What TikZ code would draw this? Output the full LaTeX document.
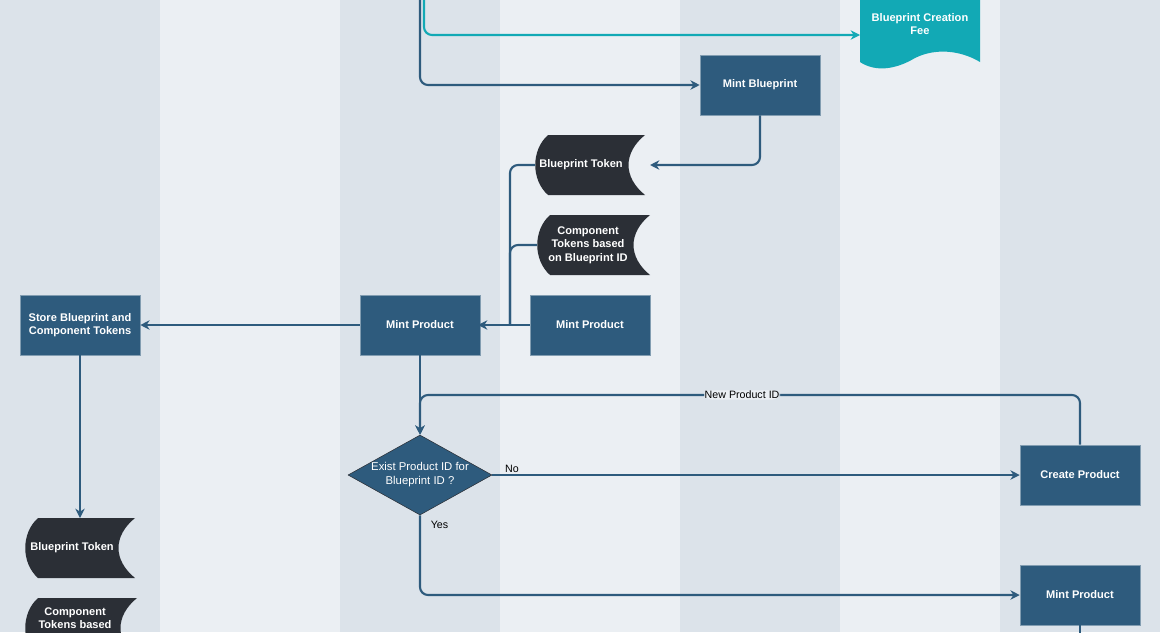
\documentclass[tikz,border=0pt]{standalone}
\usepackage{fontspec}
\setmainfont{Liberation Sans}
\usetikzlibrary{shapes.geometric, arrows.meta, positioning}
\definecolor{laneA}{HTML}{DCE3EA}
\definecolor{laneB}{HTML}{EBEFF3}
\definecolor{boxblue}{HTML}{2E5B7D}
\definecolor{tokdark}{HTML}{2B2F36}
\definecolor{teal}{HTML}{12A9B5}

\begin{document}
\begin{tikzpicture}[x=0.75pt, y=-0.75pt, >={Stealth[length=7pt,width=7pt]},
	font=\fontsize{8.5}{10.5}\selectfont]
	\tikzset{
		proc/.style = {draw=boxblue!60!white, fill=boxblue, text=white, font=\fontsize{8.3}{10}\selectfont\bfseries,
			minimum width=90pt, minimum height=45pt, align=center, inner sep=1pt},
		token/.style = {text=white, font=\fontsize{8.3}{10}\selectfont\bfseries, align=center, inner sep=0pt},
		flow/.style = {draw=boxblue, line width=1.6pt, rounded corners=6pt},
		decide/.style = {diamond, aspect=1.8, draw=tokdark, fill=boxblue, text=white, align=center,
			minimum width=108pt, minimum height=60pt, inner sep=0pt},
		lbl/.style = {font=\fontsize{8}{9}\selectfont, text=black}
	}
	% stored data shape, given left x, top y, width, height
	\newcommand{\tokshape}[4]{%
		\fill[tokdark] (#1+13,#2) -- (#1+#3,#2) .. controls (#1+#3-22,#2+#4*0.3) and (#1+#3-22,#2+#4*0.7) .. (#1+#3,#2+#4)
			-- (#1+13,#2+#4) .. controls (#1-4,#2+#4*0.75) and (#1-4,#2+#4*0.25) .. (#1+13,#2) -- cycle;}

	\useasboundingbox (0,0) rectangle (1160,632);
	\clip (0,0) rectangle (1160,632);

	% lanes
	\foreach \x/\w/\c in {0/160/laneA, 160/180/laneB, 340/160/laneA, 500/180/laneB, 680/160/laneA, 840/160/laneB, 1000/160/laneA}
		\fill[\c] (\x,0) rectangle (\x+\w,632);

	% fee document
	\fill[teal] (860,-5) -- (980,-5) -- (980,62) .. controls (960,50) and (935,48) .. (915,58)
		.. controls (895,70) and (875,72) .. (860,62) -- cycle;
	\node[token] (fee) at (920,24) {Blueprint Creation\\Fee};
	\coordinate (feein) at (860,35);

	% tokens
	\tokshape{535}{135}{110}{60}
	\node[token] (bptok) at (581,165) {Blueprint Token};
	\tokshape{537}{215}{113}{60}
	\node[token] (comptok) at (588,245) {Component\\Tokens based\\on Blueprint ID};
	\tokshape{25}{518}{110}{60}
	\node[token] (bptok2) at (72,548) {Blueprint Token};
	\tokshape{25}{598}{112}{60}
	\node[token, anchor=north] (comptok2) at (75,607) {Component\\Tokens based\\on Blueprint ID};

	% processes
	\node[proc] (mintbp) at (760,85) {Mint Blueprint};
	\node[proc] (mintp) at (420,325) {Mint Product};
	\node[proc] (mintp2) at (590,325) {Mint Product};
	\node[proc] (store) at (80,325) {Store Blueprint and\\Component Tokens};
	\node[decide] (exist) at (420,475) {Exist Product ID for\\Blueprint ID ?};
	\node[proc] (create) at (1080,475) {Create Product};
	\node[proc] (mintp3) at (1080,595) {Mint Product};

	\coordinate (top) at (420,-5);
	\coordinate (topt) at (424,-5);
	\coordinate (bottom) at (1080,640);
	\coordinate (bpin) at (650,165);
	\coordinate (mpin) at (478,325);

	% connectors
	\draw[->, draw=teal, line width=1.6pt, rounded corners=6pt] (topt) |- (feein);
	\draw[->, flow] (top) |- (mintbp.west);
	\draw[->, flow] (mintbp.south) |- (bpin);
	\draw[flow] (535,165) -| (510,325);
	\draw[flow] (537,245) -| (510,325);
	\draw[->, flow] (mintp2.west) -- (mpin);
	\draw[->, flow] (mintp.west) -- (store.east);
	\draw[->, flow] (store.south) -- (80,518);
	\draw[->, flow] (mintp.south) -- (exist.north);
	\draw[->, flow] (exist.east) -- node[lbl, pos=0.02, above right, inner sep=1pt] {No} (create.west);
	\draw[->, flow] (create.north) |- node[lbl, fill=laneB, inner sep=0.5pt, pos=0.756] {New Product ID} (420,395) -- (exist.north);
	\draw[->, flow] (exist.south) |- node[lbl, pos=0.06, right=4pt] {Yes} (mintp3.west);
	\draw[flow] (mintp3.south) -- (bottom);
\end{tikzpicture}
\end{document}
